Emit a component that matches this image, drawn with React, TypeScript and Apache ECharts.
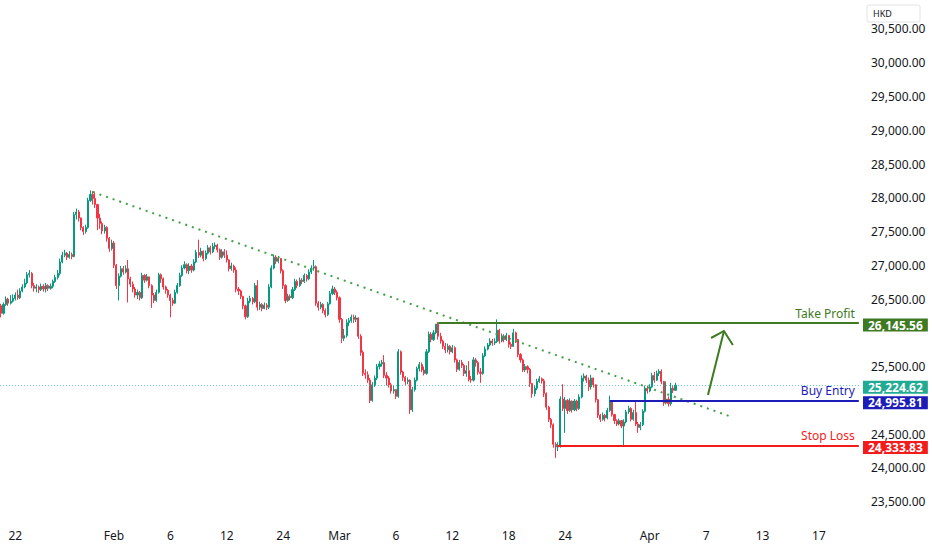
import React, { useEffect, useRef } from "react";
import * as echarts from "echarts";

// ---- data ----
const sessionHours = ["09:30", "10:30", "11:30", "13:00", "14:00", "15:00"];
const tradingDays = [
  "2026-01-21", "2026-01-22", "2026-01-23", "2026-01-26", "2026-01-27", "2026-01-28", "2026-01-29", "2026-01-30",
  "2026-02-02", "2026-02-03", "2026-02-04", "2026-02-05", "2026-02-06", "2026-02-09", "2026-02-10", "2026-02-11",
  "2026-02-12", "2026-02-13", "2026-02-20", "2026-02-23", "2026-02-24", "2026-02-25", "2026-02-26", "2026-02-27",
  "2026-03-02", "2026-03-03", "2026-03-04", "2026-03-05", "2026-03-06", "2026-03-09", "2026-03-10", "2026-03-11",
  "2026-03-12", "2026-03-13", "2026-03-16", "2026-03-17", "2026-03-18", "2026-03-19", "2026-03-20", "2026-03-23",
  "2026-03-24", "2026-03-25", "2026-03-26", "2026-03-27", "2026-03-30", "2026-03-31",
  "2026-04-01", "2026-04-02",
];
const futureDays = [
  "2026-04-03", "2026-04-06", "2026-04-07", "2026-04-08", "2026-04-09", "2026-04-10",
  "2026-04-13", "2026-04-14", "2026-04-15", "2026-04-16", "2026-04-17", "2026-04-20", "2026-04-21",
];
const xTickDays = [
  "2026-01-22", "2026-02-02", "2026-02-06", "2026-02-12", "2026-02-24", "2026-03-02", "2026-03-06",
  "2026-03-12", "2026-03-18", "2026-03-24", "2026-04-01", "2026-04-07", "2026-04-13", "2026-04-17",
];
const xTickLabels = ["22", "Feb", "6", "12", "24", "Mar", "6", "12", "18", "24", "Apr", "7", "13", "17"];
const yTickValues = [23500, 24000, 24500, 25500, 26500, 27000, 27500, 28000, 28500, 29000, 29500, 30000, 30500];

const firstOpen = 26400;
const janClose = [
  26290, 26420, 26500, 26440, 26470, 26510, 26560, 26520, 26620, 26680, 26740, 26860,
  26880, 26700, 26660, 26680, 26640, 26690, 26650, 26700, 26660, 26690, 26760, 26820,
  26880, 27050, 27150, 27180, 27120, 27160, 27130, 27750, 27790, 27700, 27560, 27500,
  27560, 27960, 28050, 27990, 27900, 27700, 27620, 27510, 27560, 27400, 27250, 27330,
];
const janHigh = [
  26430, 26450, 26540, 26520, 26560, 26570, 26600, 26640, 26660, 26720, 26800, 26900,
  26930, 26900, 26740, 26720, 26700, 26730, 26720, 26740, 26720, 26730, 26790, 26860,
  26930, 27100, 27200, 27230, 27200, 27210, 27190, 27790, 27840, 27820, 27710, 27580,
  27600, 28000, 28110, 28100, 28090, 27910, 27760, 27650, 27600, 27580, 27420, 27380,
];
const janLow = [
  26230, 26270, 26400, 26400, 26420, 26450, 26480, 26490, 26500, 26600, 26660, 26720,
  26820, 26660, 26610, 26600, 26590, 26620, 26610, 26600, 26620, 26640, 26660, 26740,
  26790, 26850, 27030, 27120, 27080, 27100, 27090, 27120, 27680, 27650, 27520, 27450,
  27470, 27540, 27940, 27900, 27850, 27520, 27540, 27460, 27470, 27350, 27200, 27220,
];
const febClose = [
  27000, 26700, 26840, 26950, 26900, 26950, 26800, 26720, 26650, 26560, 26600, 26520,
  26850, 26780, 26830, 26700, 26560, 26480, 26600, 26860, 26800, 26680, 26630, 26560,
  26480, 26440, 26600, 26700, 26850, 26960, 27010, 26920, 26990, 26930, 27050, 27190,
  27150, 27210, 27100, 27180, 27260, 27200, 27280, 27300, 27230, 27120, 27200, 27150,
  27080, 26950, 26990, 26930, 26650, 26620, 26540, 26400, 26240, 26470, 26510, 26460,
  26700, 26380, 26420, 26360, 26410, 26380, 26680, 26960, 27120, 27060, 27100, 26920,
  26700, 26480, 26540, 26520, 26640, 26760, 26700, 26780, 26760, 26850, 26800, 26900,
  26960, 26980, 26440, 26380, 26420, 26330, 26270, 26430, 26580, 26650, 26600, 26520,
];
const febHigh = [
  27360, 27020, 26880, 26990, 26990, 27000, 27080, 26830, 26760, 26680, 26640, 26620,
  26890, 26870, 26870, 26830, 26720, 26590, 26640, 26890, 26880, 26820, 26700, 26650,
  26580, 26520, 26640, 26740, 26890, 27000, 27060, 27030, 27030, 27020, 27090, 27230,
  27380, 27260, 27220, 27220, 27300, 27290, 27330, 27340, 27320, 27250, 27240, 27240,
  27220, 27090, 27040, 27010, 26970, 26680, 26640, 26550, 26420, 26520, 26550, 26530,
  26740, 26780, 26460, 26440, 26450, 26440, 26720, 27000, 27160, 27150, 27140, 27110,
  26940, 26720, 26580, 26570, 26680, 26800, 26790, 26820, 26810, 26880, 26870, 26940,
  27000, 27080, 27000, 26470, 26460, 26440, 26360, 26460, 26620, 26700, 26680, 26630,
];
const febLow = [
  26960, 26650, 26480, 26820, 26860, 26880, 26450, 26680, 26600, 26520, 26500, 26480,
  26500, 26740, 26760, 26660, 26370, 26440, 26460, 26580, 26740, 26640, 26580, 26520,
  26230, 26400, 26430, 26580, 26680, 26830, 26940, 26880, 26870, 26890, 26910, 27030,
  27110, 27120, 27060, 27080, 27160, 27160, 27180, 27240, 27190, 27080, 27100, 27110,
  27040, 26910, 26920, 26890, 26600, 26560, 26500, 26350, 26200, 26220, 26440, 26420,
  26440, 26330, 26340, 26320, 26350, 26340, 26350, 26660, 26940, 27020, 27030, 26880,
  26650, 26440, 26460, 26480, 26500, 26620, 26660, 26680, 26720, 26740, 26760, 26780,
  26870, 26920, 26400, 26330, 26350, 26290, 26230, 26250, 26420, 26560, 26560, 26480,
];
const marClose = [
  26200, 25920, 25960, 26150, 26180, 26230, 26200, 26220, 25950, 25710, 25400, 25380,
  25300, 25000, 25230, 25330, 25500, 25540, 25560, 25370, 25330, 25230, 25140, 25160,
  25060, 25720, 25420, 25340, 25280, 25300, 24860, 25160, 25300, 25470, 25530, 25450,
  25400, 25720, 25980, 25900, 26000, 26130, 25950, 25880, 25800, 25750, 25800, 25720,
  25780, 25600, 25460, 25560, 25520, 25400, 25440, 25310, 25300, 25600, 25560, 25420,
  25400, 25660, 25760, 25820, 25880, 25850, 25870, 26040, 25880, 25950, 25900, 25960,
  25830, 25800, 26000, 25900, 25680, 25600, 25450, 25500, 25460, 25250, 25100, 25180,
  25280, 25320, 25290, 25100, 24900, 24720, 24640, 24350, 24310, 24330, 25020, 24880,
  25000, 24850, 24990, 24860, 24990, 24880, 25050, 25330, 25360, 25300, 25200, 25330,
  25230, 25010, 24780, 24720, 24780, 24740, 24850, 24990, 24790, 24700, 24650, 24700,
  24620, 24680, 24830, 24880, 24720, 24820, 24650, 24600, 24640, 24840, 25180, 25140,
];
const marHigh = [
  26540, 26220, 26060, 26200, 26220, 26270, 26270, 26260, 26230, 25980, 25740, 25460,
  25430, 25330, 25270, 25370, 25540, 25580, 25600, 25670, 25420, 25360, 25260, 25220,
  25160, 25760, 25740, 25440, 25360, 25340, 25310, 25200, 25340, 25500, 25570, 25560,
  25500, 25760, 26020, 26010, 26040, 26100, 26160, 26000, 25900, 25850, 25840, 25820,
  25820, 25800, 25620, 25600, 25600, 25540, 25520, 25580, 25360, 25640, 25630, 25580,
  25480, 25700, 25800, 25850, 25920, 25910, 25920, 26200, 26060, 25990, 25980, 26000,
  25970, 25860, 26060, 26020, 25910, 25700, 25620, 25540, 25520, 25480, 25260, 25220,
  25320, 25360, 25340, 25320, 25120, 24920, 24740, 24660, 24380, 24380, 25060, 25240,
  25050, 25020, 25030, 25000, 25020, 25010, 25090, 25370, 25400, 25380, 25340, 25380,
  25340, 25240, 25020, 24800, 24820, 24800, 24890, 25070, 25000, 24800, 24720, 24730,
  24710, 24720, 24860, 24920, 24900, 24860, 24980, 24680, 24680, 24870, 25220, 25220,
];
const marLow = [
  26150, 25850, 25880, 25930, 26100, 26150, 26150, 26160, 25910, 25660, 25360, 25320,
  25260, 24960, 24980, 25200, 25300, 25460, 25500, 25330, 25220, 25190, 25100, 25100,
  25020, 25040, 25380, 25290, 25230, 25240, 24800, 24830, 25130, 25280, 25430, 25420,
  25370, 25380, 25700, 25860, 25880, 25980, 25900, 25840, 25760, 25700, 25710, 25680,
  25700, 25560, 25420, 25440, 25480, 25360, 25350, 25280, 25260, 25280, 25500, 25380,
  25260, 25380, 25640, 25740, 25800, 25810, 25820, 25850, 25840, 25860, 25860, 25880,
  25780, 25760, 25790, 25850, 25640, 25560, 25420, 25420, 25400, 25200, 25040, 25060,
  25150, 25260, 25250, 25050, 24860, 24680, 24590, 24300, 24150, 24250, 24300, 24840,
  24520, 24800, 24830, 24820, 24840, 24840, 24860, 25030, 25280, 25260, 25140, 25160,
  25190, 24970, 24740, 24680, 24700, 24690, 24720, 24830, 24760, 24650, 24620, 24630,
  24590, 24330, 24660, 24800, 24690, 24700, 24620, 24520, 24560, 24620, 24820, 25100,
];
const aprClose = [25200, 25370, 25300, 25400, 25430, 25280, 24960, 25020, 24950, 25180, 25150, 25224.62];
const aprHigh = [25240, 25410, 25420, 25440, 25460, 25460, 25290, 25280, 25060, 25260, 25220, 25260];
const aprLow = [25120, 25180, 25260, 25290, 25360, 25240, 24920, 24940, 24910, 24920, 25110, 25140];

const takeProfit = 26145.56;
const buyEntry = 24995.81;
const stopLoss = 24333.83;
const lastPrice = 25224.62;
const takeProfitStartBar = 186;
const stopLossStartBar = 237;
const buyEntryStartBar = 259;
const trendLine = [[39, 28086], [311, 24754]];
const arrowShaft = [[300.8, 25080], [307.6, 26028]];
const arrowHead = [[302.1, 25924], [307.6, 26028], [311.4, 25821]];
const yMin = 23229;
const yMax = 30929;

// ---- styles ----
const UP = "#089981";
const DOWN = "#f23645";
const TP_COLOR = "#3d7a22";
const BE_COLOR = "#1c1cb8";
const SL_COLOR = "#f21c1c";
const LAST_COLOR = "#22ab94";
const TEXT = "#131722";
const FONT = "'Noto Sans', 'DejaVu Sans', sans-serif";

const fmt = (v: number) => {
  const [i, d] = v.toFixed(2).split(".");
  return i.replace(/\B(?=(\d{3})+(?!\d))/g, ",") + "." + d;
};

export default function App() {
  const ref = useRef<HTMLDivElement>(null);

  useEffect(() => {
    document.body.style.margin = "0";
    if (!ref.current) return;
    const chart = echarts.init(ref.current, undefined, { renderer: "svg" });

    const categories = [...tradingDays, ...futureDays].flatMap((d) => sessionHours.map((h) => `${d} ${h}`));
    const lastCat = categories.length - 1;
    const closes = [...janClose, ...febClose, ...marClose, ...aprClose];
    const highs = [...janHigh, ...febHigh, ...marHigh, ...aprHigh];
    const lows = [...janLow, ...febLow, ...marLow, ...aprLow];
    const candles = closes.map((c, i) => {
      const o = i === 0 ? firstOpen : closes[i - 1];
      return [o, c, Math.min(lows[i], o, c), Math.max(highs[i], o, c)];
    });

    const tickMap = new Map<string, string>();
    xTickDays.forEach((d, k) => tickMap.set(`${d} ${sessionHours[0]}`, xTickLabels[k]));

    const boxLabel = (value: number, bg: string) => ({
      show: true,
      position: "end",
      formatter: fmt(value),
      backgroundColor: bg,
      color: "#ffffff",
      fontFamily: FONT,
      fontSize: 12,
      fontWeight: "bold",
      padding: [0, 5],
      lineHeight: 13,
      distance: 3,
      offset: [0, 2],
    });
    const nameLabel = (text: string, color: string) => ({
      show: true,
      position: "insideEndTop",
      formatter: text,
      color,
      fontFamily: FONT,
      fontSize: 12,
      distance: 4,
    });
    const levelLine = (start: number, value: number, color: string, text: string) => [
      { coord: [start, value], lineStyle: { color, width: 2, type: "solid" }, label: nameLabel(text, color) },
      { coord: [lastCat, value] },
    ];
    const boxLine = (value: number, color: string) => ({
      yAxis: value,
      lineStyle: { color: "rgba(0,0,0,0)", width: 0 },
      label: boxLabel(value, color),
    });

    chart.setOption({
      animation: false,
      backgroundColor: "#ffffff",
      textStyle: { fontFamily: FONT },
      grid: { left: 0, right: 72, top: 0, bottom: 30, containLabel: false },
      xAxis: [
        {
          type: "category",
          data: categories,
          boundaryGap: true,
          axisLine: { show: false },
          axisTick: { show: false },
          splitLine: { show: false },
          axisLabel: {
            interval: (index: number, value: string) => tickMap.has(value),
            formatter: (value: string) => tickMap.get(value) ?? "",
            color: TEXT,
            fontSize: 12,
            fontFamily: FONT,
            margin: 9,
          },
        },
        {
          type: "value",
          min: -0.5,
          max: categories.length - 0.5,
          show: false,
        },
      ],
      yAxis: {
        type: "value",
        position: "right",
        min: yMin,
        max: yMax,
        scale: true,
        axisLine: { show: false },
        axisTick: { show: false },
        splitLine: { show: false },
        axisLabel: {
          customValues: yTickValues,
          formatter: (v: number) => fmt(v),
          color: TEXT,
          fontSize: 12,
          lineHeight: 10,
          fontFamily: FONT,
          margin: 11,
        },
      },
      graphic: [
        {
          type: "rect",
          shape: { x: 867, y: 5, width: 53, height: 17, r: 2 },
          style: { fill: "#ffffff", stroke: "#e0e3eb", lineWidth: 1 },
        },
        {
          type: "text",
          x: 873,
          y: 13.5,
          style: { text: "HKD", fill: TEXT, fontSize: 9, fontFamily: FONT, verticalAlign: "middle" },
        },
      ],
      series: [
        {
          type: "candlestick",
          xAxisIndex: 0,
          data: candles,
          barWidth: 1.6,
          itemStyle: { color: UP, color0: DOWN, borderColor: UP, borderColor0: DOWN, borderWidth: 1 },
          silent: true,
          markLine: {
            silent: true,
            symbol: ["none", "none"],
            animation: false,
            data: [
              {
                yAxis: lastPrice,
                lineStyle: { color: "rgba(34,171,148,0.6)", width: 1, type: [1, 2] },
                label: boxLabel(lastPrice, LAST_COLOR),
              },
              levelLine(takeProfitStartBar, takeProfit, TP_COLOR, "Take Profit"),
              levelLine(buyEntryStartBar, buyEntry, BE_COLOR, "Buy Entry"),
              levelLine(stopLossStartBar, stopLoss, SL_COLOR, "Stop Loss"),
              boxLine(takeProfit, TP_COLOR),
              boxLine(buyEntry, BE_COLOR),
              boxLine(stopLoss, SL_COLOR),
            ],
          },
        },
        {
          type: "line",
          xAxisIndex: 1,
          data: trendLine,
          symbol: "none",
          silent: true,
          lineStyle: { color: "#43a047", width: 2, type: [2, 5] },
        },
        {
          type: "line",
          xAxisIndex: 1,
          data: arrowShaft,
          symbol: "none",
          silent: true,
          lineStyle: { color: TP_COLOR, width: 2 },
        },
        {
          type: "line",
          xAxisIndex: 1,
          data: arrowHead,
          symbol: "none",
          silent: true,
          lineStyle: { color: TP_COLOR, width: 2, join: "miter" },
        },
      ],
    });

    return () => chart.dispose();
  }, []);

  return <div ref={ref} style={{ width: 932, height: 550 }} />;
}
